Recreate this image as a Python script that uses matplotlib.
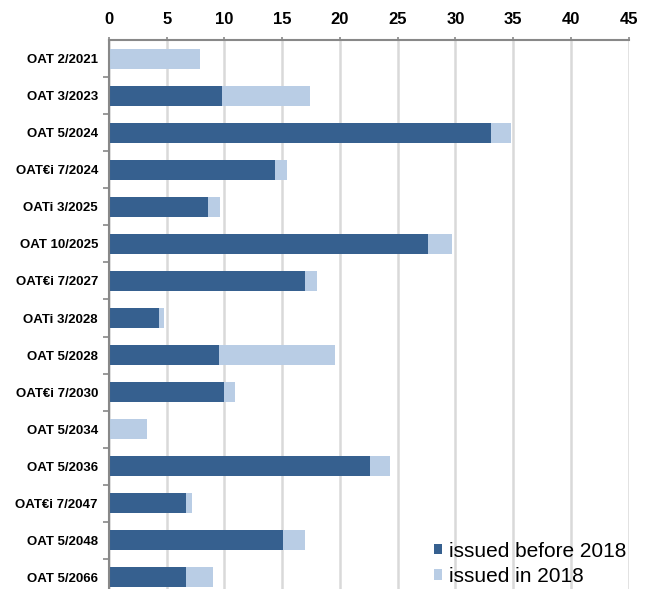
import numpy as np
import matplotlib
matplotlib.use("Agg")
import matplotlib.pyplot as plt
from matplotlib.ticker import FixedLocator

# bonds, top to bottom
bonds = ["OAT 2/2021", "OAT 3/2023", "OAT 5/2024", "OAT€i 7/2024", "OATi 3/2025",
         "OAT 10/2025", "OAT€i 7/2027", "OATi 3/2028", "OAT 5/2028", "OAT€i 7/2030",
         "OAT 5/2034", "OAT 5/2036", "OAT€i 7/2047", "OAT 5/2048", "OAT 5/2066"]
before_2018 = [0.0, 9.8, 33.1, 14.4, 8.6, 27.6, 17.0, 4.3, 9.5, 10.0,
               0.0, 22.6, 6.7, 15.1, 6.7]
in_2018 = [7.9, 7.6, 1.7, 1.0, 1.0, 2.1, 1.0, 0.5, 10.1, 0.9,
           3.3, 1.7, 0.5, 1.9, 2.3]

dark = "#36608f"
light = "#b9cde5"

plt.rcParams["font.family"] = ["Liberation Sans", "DejaVu Sans"]

fig = plt.figure(figsize=(6.51, 5.89), dpi=100)
ax = fig.add_axes([0.1675, -0.0119, 0.798, 0.944])

y = np.arange(len(bonds))
ax.barh(y, before_2018, height=0.54, color=dark, label="issued before 2018", zorder=3)
ax.barh(y, in_2018, left=before_2018, height=0.54, color=light, label="issued in 2018", zorder=3)

ax.set_xlim(0, 45)
ax.set_ylim(len(bonds) - 0.5, -0.5)
ax.set_xticks(np.arange(0, 46, 5))
ax.xaxis.tick_top()
ax.tick_params(axis="x", length=2, width=1.2, color="#888888", pad=7, labelsize=12)
for lbl in ax.get_xticklabels():
    lbl.set_fontweight("bold")

ax.set_yticks(y)
ax.set_yticklabels(bonds, fontsize=9.5, fontweight="bold")
ax.tick_params(axis="y", which="major", length=0, pad=8)
ax.yaxis.set_minor_locator(FixedLocator(np.arange(0.5, len(bonds) - 1, 1)))
ax.tick_params(axis="y", which="minor", length=4, width=1.2, color="#888888")

ax.grid(axis="x", color="#d9d9d9", linewidth=1.8, zorder=0)
for s in ["right", "bottom"]:
    ax.spines[s].set_visible(False)
for s in ["left", "top"]:
    ax.spines[s].set_color("#888888")
    ax.spines[s].set_linewidth(1.5)
    ax.spines[s].set_zorder(4)

ax.legend(loc="center left", bbox_to_anchor=(0.605, 0.058), frameon=False, fontsize=15,
          borderpad=0, handlelength=0.4, handleheight=0.4, handletextpad=0.35,
          labelspacing=0.3)

fig.savefig("out.png", dpi=100)
